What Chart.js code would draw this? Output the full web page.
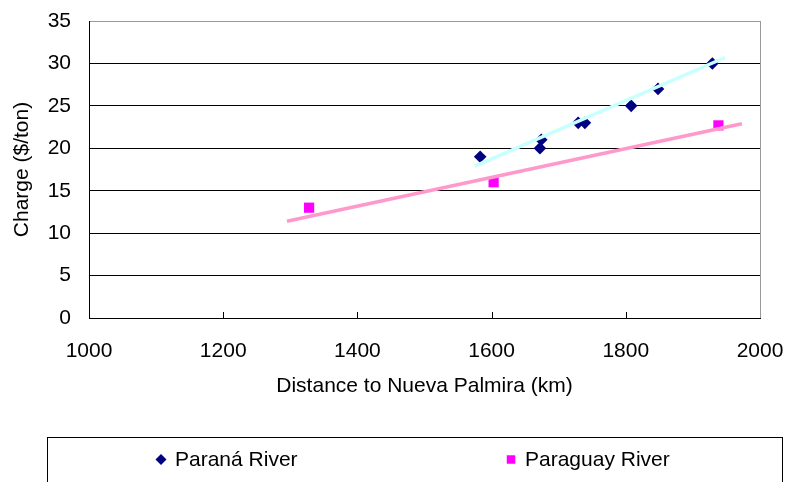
<!DOCTYPE html>
<html>
<head>
<meta charset="utf-8">
<script src="https://cdn.jsdelivr.net/npm/chart.js@4/dist/chart.umd.min.js"></script>
<style>
  html, body { margin: 0; padding: 0; background: #fff; }
  #wrap { width: 785px; height: 482px; position: relative; }
</style>
</head>
<body>
<div id="wrap"><canvas id="c" width="785" height="482"></canvas></div>
<script>
// Freight charge against river distance to Nueva Palmira
const paranaDistance = [1583, 1674, 1672, 1729, 1739, 1808, 1848, 1929];
const paranaCharge   = [19, 21, 20, 23, 23, 25, 27, 30];
const paraguayDistance = [1328, 1603, 1938];
const paraguayCharge   = [13, 16, 22.7];

// Linear trend lines (end points)
const paranaTrendDistance   = [1575, 1948];
const paranaTrendCharge     = [17.9, 30.7];
const paraguayTrendDistance = [1295, 1973];
const paraguayTrendCharge   = [11.4, 22.9];

const seriesNames = ['Paraná River', 'Paraguay River'];
const xTickValues = [1000, 1200, 1400, 1600, 1800, 2000];
const yTickValues = [0, 5, 10, 15, 20, 25, 30, 35];
const xTitle = 'Distance to Nueva Palmira (km)';
const yTitle = 'Charge ($/ton)';

const FONT = '"Liberation Sans", Arial, sans-serif';
const pairs = (xs, ys) => xs.map((x, i) => ({ x, y: ys[i] }));

// Small inward tick marks on the x axis, plus the right edge of the frame
const innerXTicks = {
  id: 'innerXTicks',
  afterDraw(chart) {
    const { ctx, chartArea } = chart;
    const xs = chart.scales.x;
    ctx.save();
    ctx.strokeStyle = '#000';
    ctx.lineWidth = 1;
    xs.ticks.forEach(t => {
      const px = Math.round(xs.getPixelForValue(t.value)) + 0.5;
      ctx.beginPath();
      ctx.moveTo(px, chartArea.bottom);
      ctx.lineTo(px, chartArea.bottom - 6);
      ctx.stroke();
    });
    ctx.strokeStyle = '#999';
    ctx.beginPath();
    ctx.moveTo(Math.round(chartArea.right) + 0.5, chartArea.top);
    ctx.lineTo(Math.round(chartArea.right) + 0.5, chartArea.bottom);
    ctx.stroke();
    ctx.restore();
  }
};

// Framed legend below the axis title
const boxedLegend = {
  id: 'boxedLegend',
  afterDraw(chart) {
    const ctx = chart.ctx;
    ctx.save();
    ctx.strokeStyle = '#000';
    ctx.lineWidth = 1;
    ctx.strokeRect(47.5, 437.5, 735, 80);
    ctx.font = '21px ' + FONT;
    ctx.textBaseline = 'middle';
    ctx.textAlign = 'left';
    const slots = [161, 511];
    const y = 459.5;
    [1, 0].forEach((dsIndex, k) => {
      const ds = chart.data.datasets[dsIndex + 2];
      const mx = slots[k];
      ctx.fillStyle = ds.backgroundColor;
      Chart.helpers.drawPoint(ctx, {
        pointStyle: ds.pointStyle,
        rotation: 0,
        radius: ds.pointStyle === 'rect' ? 6 : 5.5,
        borderWidth: 0
      }, mx, y);
      ctx.fillStyle = '#000';
      ctx.fillText(ds.label, mx + 14, y + 1);
    });
    ctx.restore();
  }
};

new Chart(document.getElementById('c'), {
  type: 'scatter',
  data: {
    datasets: [
      {
        label: 'Paraná trend',
        data: pairs(paranaTrendDistance, paranaTrendCharge),
        showLine: true,
        borderColor: '#c8ffff',
        borderWidth: 3.5,
        pointRadius: 0,
        order: 0
      },
      {
        label: 'Paraguay trend',
        data: pairs(paraguayTrendDistance, paraguayTrendCharge),
        showLine: true,
        borderColor: '#ff99cc',
        borderWidth: 3.5,
        pointRadius: 0,
        order: 0
      },
      {
        label: seriesNames[1],
        data: pairs(paraguayDistance, paraguayCharge),
        pointStyle: 'rect',
        pointRadius: 7.2,
        backgroundColor: '#ff00ff',
        borderColor: '#ff00ff',
        borderWidth: 0,
        order: 1
      },
      {
        label: seriesNames[0],
        data: pairs(paranaDistance, paranaCharge),
        pointStyle: 'rectRot',
        pointRadius: 6.3,
        backgroundColor: '#000080',
        borderColor: '#000080',
        borderWidth: 0,
        order: 1
      }
    ]
  },
  options: {
    responsive: false,
    animation: false,
    devicePixelRatio: 1,
    layout: { padding: { left: 0, top: 21, right: 25, bottom: 0 } },
    plugins: {
      legend: { display: false },
      tooltip: { enabled: false }
    },
    scales: {
      x: {
        type: 'linear',
        min: 1000,
        max: 2000,
        afterBuildTicks: s => { s.ticks = xTickValues.map(v => ({ value: v })); },
        afterFit: s => { s.height = 164; s.paddingLeft = 0; s.paddingRight = 0; },
        grid: { display: false, drawTicks: false },
        border: { display: true, color: '#000', width: 1 },
        ticks: {
          padding: 21,
          color: '#000',
          font: { family: FONT, size: 21 },
          callback: v => String(v)
        },
        title: {
          display: true,
          text: xTitle,
          color: '#000',
          font: { family: FONT, size: 21 },
          padding: { top: 0, bottom: 83 }
        }
      },
      y: {
        type: 'linear',
        min: 0,
        max: 35,
        afterBuildTicks: s => { s.ticks = yTickValues.map(v => ({ value: v })); },
        afterFit: s => { s.width = 89; s.paddingTop = 0; s.paddingBottom = 0; },
        grid: {
          drawTicks: false,
          color: c => (c.tick && c.tick.value === 35 ? '#999' : '#000'),
          lineWidth: 1
        },
        border: { display: true, color: '#000', width: 1 },
        ticks: {
          padding: 18,
          color: '#000',
          font: { family: FONT, size: 21 },
          callback: v => String(v)
        },
        title: {
          display: true,
          text: yTitle,
          color: '#000',
          font: { family: FONT, size: 21 },
          padding: { top: 10, bottom: 0 }
        }
      }
    }
  },
  plugins: [innerXTicks, boxedLegend]
});
</script>
</body>
</html>
